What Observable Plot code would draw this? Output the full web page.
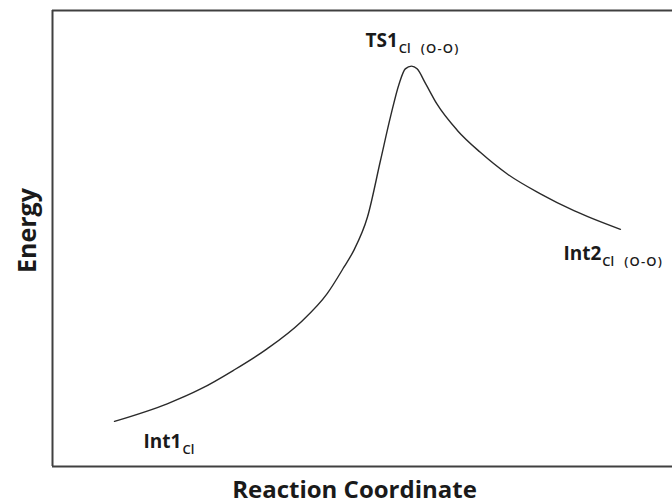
<!DOCTYPE html>
<html><head><meta charset="utf-8">
<script src="https://cdn.jsdelivr.net/npm/d3@7"></script>
<script src="https://cdn.jsdelivr.net/npm/@observablehq/plot@0.6"></script>
<style>body{margin:0;background:#fff}#chart{width:672px;height:504px}</style>
</head><body><div id="chart"></div>
<script>
// Reaction coordinate (arbitrary units) and energy (arbitrary units)
const coordX = [10.0, 18.5, 23.9, 29.2, 34.6, 40.0, 44.3, 47.0, 48.6, 50.8, 52.9, 54.5, 55.9, 56.9, 57.9, 58.8, 60.2, 62.0, 65.3, 69.0, 73.3, 78.7, 84.1, 91.6];
const energyY = [9.9, 13.75, 17.0, 21.1, 25.8, 31.6, 37.9, 43.7, 47.4, 54.7, 67.1, 76.6, 83.9, 87.2, 87.8, 87.2, 83.9, 79.5, 73.7, 68.9, 64.2, 59.8, 56.1, 52.0];

// Stationary-point labels: name, subscript, note, and which curve point they belong to
const labelNames = ["Int1", "TS1", "Int2"];
const labelSubs = ["Cl", "Cl", "Cl"];
const labelNotes = ["", "(O-O)", "(O-O)"];
const labelPointIndex = [0, 14, 23];

const xTitle = "Reaction Coordinate";
const yTitle = "Energy";

const curve = coordX.map((x, i) => ({x, y: energyY[i]}));
const labels = labelNames.map((name, i) => ({name, sub: labelSubs[i], note: labelNotes[i], ...curve[labelPointIndex[i]]}));

const FONT = "'Open Sans', Lato, sans-serif";
const ink = "#1a1a1a";
const frameColor = "#404040";

const labelOffsets = {Int1: [29, 27], TS1: [-46, -19], Int2: [-57, 31]};

const svg = Plot.plot({
  width: 672,
  height: 504,
  marginLeft: 52,
  marginRight: 0,
  marginTop: 10,
  marginBottom: 38,
  x: {domain: [0, 100], axis: null},
  y: {domain: [0, 100], axis: null},
  style: {fontFamily: FONT, background: "#fff", overflow: "visible"},
  marks: [
    Plot.ruleY([0], {stroke: frameColor, strokeWidth: 2}),
    Plot.ruleY([100], {stroke: frameColor, strokeWidth: 2}),
    Plot.ruleX([0], {stroke: frameColor, strokeWidth: 2}),
    Plot.line(curve, {x: "x", y: "y", curve: "monotone-x", stroke: "#2a2a2a", strokeWidth: 1.4}),
    ...labels.map(l => Plot.text([l], {
      x: "x", y: "y", text: "name",
      textAnchor: "start", lineAnchor: "bottom",
      dx: labelOffsets[l.name][0], dy: labelOffsets[l.name][1],
      fontSize: 19, fontWeight: "bold", fill: ink
    })),
    Plot.text([xTitle], {
      frameAnchor: "bottom", text: d => d, lineAnchor: "bottom", textAnchor: "middle",
      dx: -8, dy: 31, fontSize: 24, fontWeight: "bold", fill: ink
    }),
    Plot.text([yTitle], {
      frameAnchor: "left", text: d => d, lineAnchor: "bottom", textAnchor: "middle", rotate: -90,
      dx: -17, dy: -8, fontSize: 25, fontWeight: "bold", fill: ink
    })
  ]
});

// add subscripts to the stationary-point labels
const byName = new Map(labels.map(l => [l.name, l]));
d3.select(svg).selectAll("text").each(function () {
  const t = this.textContent;
  if (!byName.has(t)) return;
  const l = byName.get(t);
  const sel = d3.select(this);
  sel.text(null);
  sel.append("tspan").text(l.name);
  sel.append("tspan").attr("dx", 1).attr("dy", 6).attr("font-size", 13).attr("font-weight", 600).text(l.sub);
  if (l.note) sel.append("tspan").attr("dx", 10).attr("font-size", 13).attr("font-weight", 600).attr("letter-spacing", 1.2).text(l.note);
});

document.getElementById("chart").appendChild(svg);
</script>
</body></html>
